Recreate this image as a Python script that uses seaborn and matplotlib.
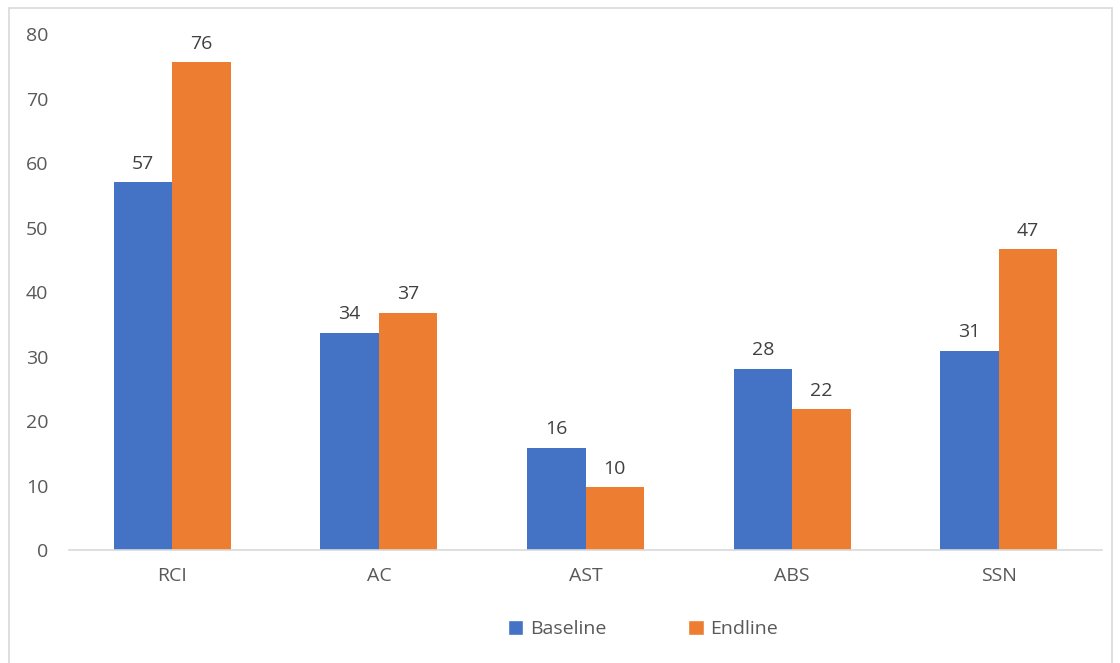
import matplotlib.pyplot as plt
import seaborn as sns
import pandas as pd
from matplotlib.patches import Rectangle, Patch

categories = ["RCI", "AC", "AST", "ABS", "SSN"]
baseline = [57.0, 33.7, 15.8, 28.1, 30.9]
endline = [75.6, 36.8, 9.7, 21.8, 46.6]
series = ["Baseline", "Endline"]
colors = ["#4472C4", "#ED7D31"]

df = pd.DataFrame({
    "category": categories * 2,
    "value": baseline + endline,
    "series": [series[0]] * len(categories) + [series[1]] * len(categories),
})

sns.set_style("white")
plt.rcParams["font.family"] = ["Open Sans", "DejaVu Sans"]
text_color = "#595959"
fs = 14

fig = plt.figure(figsize=(11.2, 6.63), dpi=100)
ax = fig.add_axes([0.0616, 0.1704, 0.9224, 0.7783])

sns.barplot(data=df, x="category", y="value", hue="series", palette=colors,
            width=0.566, gap=0, saturation=1, linewidth=0, ax=ax, legend=False)

for cont in ax.containers:
    ax.bar_label(cont, labels=[f"{v:.0f}" for v in cont.datavalues],
                 padding=7, fontsize=fs, color="#404040")

ax.set_ylim(0, 80)
ax.set_xlim(-0.5, 4.5)
ax.set_yticks(range(0, 81, 10))
ax.set_xlabel("")
ax.set_ylabel("")
ax.tick_params(axis="both", length=0, labelsize=fs, colors=text_color)
ax.tick_params(axis="y", pad=15)
ax.tick_params(axis="x", pad=12)
for s in ["top", "right", "left"]:
    ax.spines[s].set_visible(False)
ax.spines["bottom"].set_color("#D9D9D9")
ax.spines["bottom"].set_linewidth(1.2)

handles = [Patch(facecolor=c, label=s) for s, c in zip(series, colors)]
fig.legend(handles=handles, loc="center", bbox_to_anchor=(0.574, 0.051),
           ncol=2, frameon=False, fontsize=fs, labelcolor=text_color,
           handlelength=0.8, handleheight=0.8, handletextpad=0.35,
           columnspacing=4.2)

# chart border
fig.patches.append(Rectangle((8.5 / 1120, -0.05), 1103 / 1120, 1.05 - 8.5 / 663,
                             transform=fig.transFigure, fill=False,
                             edgecolor="#D9D9D9", linewidth=1.2))

fig.savefig("out.png", dpi=100)
